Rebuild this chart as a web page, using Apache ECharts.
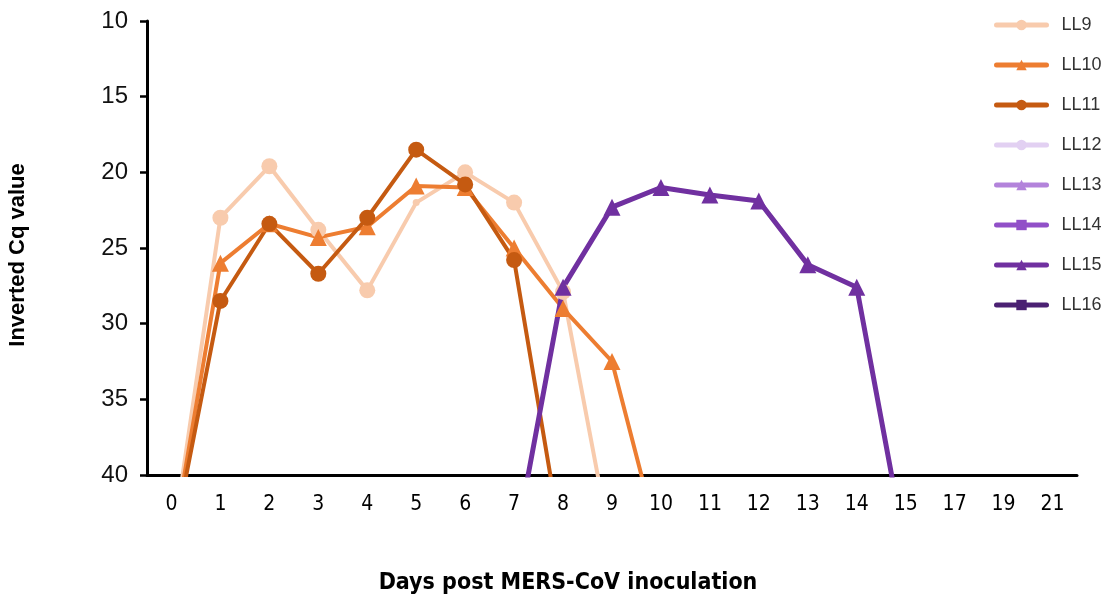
<!DOCTYPE html>
<html>
<head>
<meta charset="utf-8">
<script src="https://cdn.jsdelivr.net/npm/echarts@6/dist/echarts.min.js"></script>
<style>
  html, body { margin: 0; padding: 0; background: #fff; }
  #chart { width: 1115px; height: 595px; }
</style>
</head>
<body>
<div id="chart"></div>
<script>
// Days post inoculation (category axis)
const days = ['0','1','2','3','4','5','6','7','8','9','10','11','12','13','14','15','17','19','21'];

// Inverted Cq values per animal; 45 = not detected (drawn below the 40 cut-off)
const LL9  = [45, 23.0, 19.6, 23.8, 27.8, 22.0, 20.0, 22.0, 27.9, 45, null, null, null, null, null, null, null, null, null];
const LL10 = [45, 26.0, 23.4, 24.3, 23.6, 20.9, 21.0, 25.0, 29.0, 32.5, 45, null, null, null, null, null, null, null, null];
const LL11 = [45, 28.5, 23.4, 26.7, 23.0, 18.5, 20.8, 25.8, 45, null, null, null, null, null, null, null, null, null, null];
const LL12 = [];
const LL13 = [];
const LL14 = [];
const LL15 = [null, null, null, null, null, null, null, 45, 27.6, 22.3, 21.0, 21.5, 21.9, 26.1, 27.6, 45, null, null, null];
const LL16 = [];

const yTicks = [10, 15, 20, 25, 30, 35, 40];

const seriesDefs = [
  { name: 'LL9',  data: LL9,  color: '#F8CBAD', symbol: 'circle',   width: 4 },
  { name: 'LL10', data: LL10, color: '#ED7D31', symbol: 'triangle', width: 4 },
  { name: 'LL11', data: LL11, color: '#C55A11', symbol: 'circle',   width: 4 },
  { name: 'LL12', data: LL12, color: '#E2D0F2', symbol: 'circle',   width: 4 },
  { name: 'LL13', data: LL13, color: '#B383DB', symbol: 'triangle', width: 4 },
  { name: 'LL14', data: LL14, color: '#9150C8', symbol: 'rect',     width: 4 },
  { name: 'LL15', data: LL15, color: '#7030A0', symbol: 'triangle', width: 5 },
  { name: 'LL16', data: LL16, color: '#4B2173', symbol: 'rect',     width: 4 }
];

const narrowFont = '"DejaVu Sans Condensed", "Liberation Sans Narrow", "Liberation Sans", Arial, sans-serif';
const sansFont = '"Liberation Sans", Arial, sans-serif';

const chart = echarts.init(document.getElementById('chart'), null, { renderer: 'canvas' });

const series = seriesDefs.map(function (d) {
  let data = d.data;
  if (d.name === 'LL9') {
    // the day-5 reading of LL9 is drawn with a reduced marker
    data = d.data.map(function (v, i) {
      return i === 5 ? { value: v, symbolSize: 7 } : v;
    });
  }
  return {
    name: d.name,
    type: 'line',
    data: data,
    symbol: d.symbol,
    symbolSize: d.symbol === 'triangle' ? 17 : 16,
    showSymbol: true,
    connectNulls: false,
    clip: true,
    animation: false,
    lineStyle: { color: d.color, width: d.width },
    itemStyle: { color: d.color },
    emphasis: { disabled: true }
  };
});

chart.setOption({
  backgroundColor: '#ffffff',
  animation: false,
  grid: { left: 147, top: 21, right: 38, bottom: 120, containLabel: false, outerBoundsMode: 'none' },
  legend: {
    orient: 'vertical',
    left: 989,
    top: 11,
    itemWidth: 50,
    itemHeight: 13,
    itemGap: 22,
    lineStyle: { width: 5, cap: 'round' },
    textStyle: { fontFamily: sansFont, fontSize: 18, color: '#333', padding: [0, 0, 0, 10] },
    data: seriesDefs.map(function (d) { return d.name; })
  },
  xAxis: {
    type: 'category',
    data: days,
    boundaryGap: true,
    name: 'Days post MERS-CoV inoculation',
    nameLocation: 'middle',
    nameGap: 97,
    nameTextStyle: { fontFamily: narrowFont, fontWeight: 'bold', fontSize: 23, color: '#000', padding: [0, 88, 0, 0] },
    axisLine: { lineStyle: { color: '#000', width: 3 } },
    axisTick: { show: false },
    axisLabel: { fontFamily: narrowFont, fontSize: 21, color: '#000', margin: 19 },
    splitLine: { show: false }
  },
  yAxis: {
    type: 'value',
    inverse: true,
    min: 10,
    max: 40,
    interval: 5,
    name: 'Inverted Cq value',
    nameLocation: 'middle',
    nameGap: 118,
    nameRotate: 90,
    nameTextStyle: { fontFamily: sansFont, fontWeight: 'bold', fontSize: 22, color: '#000', padding: [0, 14, 0, 0] },
    axisLine: { show: true, lineStyle: { color: '#000', width: 3 } },
    axisTick: { show: true, inside: false, length: 7, lineStyle: { color: '#000', width: 2.5 } },
    axisLabel: {
      fontFamily: sansFont, fontSize: 24, color: '#111', margin: 19,
      formatter: function (v) { return yTicks.indexOf(v) >= 0 ? String(v) : ''; }
    },
    splitLine: { show: false }
  },
  series: series
});
</script>
</body>
</html>
